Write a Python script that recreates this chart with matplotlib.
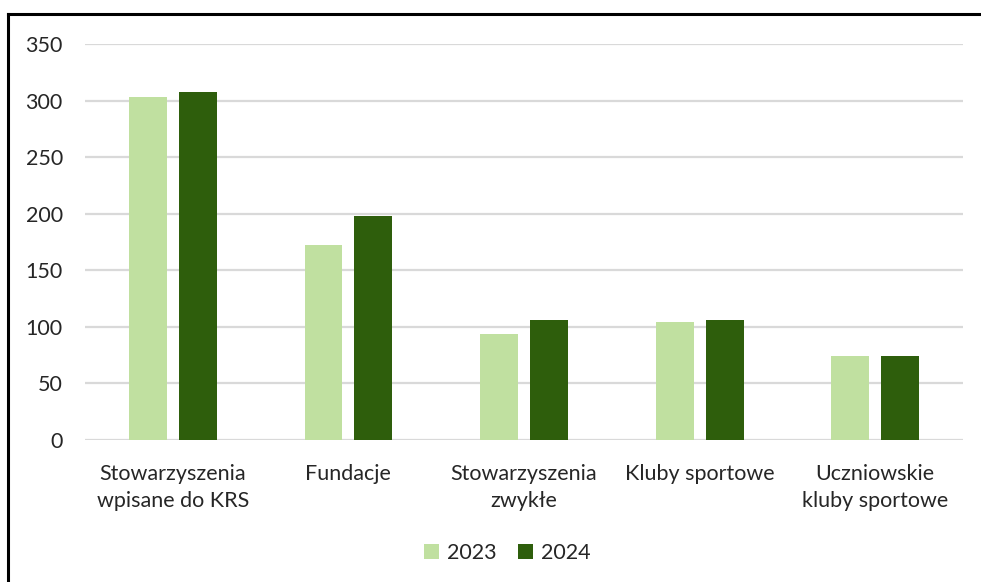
import numpy as np
import matplotlib
matplotlib.use("Agg")
import matplotlib.pyplot as plt
from matplotlib.lines import Line2D

plt.rcParams["font.family"] = ["Lato", "DejaVu Sans"]

categories = ["Stowarzyszenia\nwpisane do KRS", "Fundacje", "Stowarzyszenia\nzwykłe",
              "Kluby sportowe", "Uczniowskie\nkluby sportowe"]
years = ["2023", "2024"]
v2023 = [303, 172, 94, 104, 74]
v2024 = [308, 198, 106, 106, 74]
colors = ["#c0e0a0", "#2e5e0c"]

fig = plt.figure(figsize=(9.81, 5.82), dpi=100)
ax = fig.add_axes([85 / 981, 1 - 440 / 582, 878 / 981, 396 / 582])

x = np.arange(len(categories))
w = 0.216; off = 0.142
ax.bar(x - off, v2023, w, color=colors[0], label=years[0], zorder=3)
ax.bar(x + off, v2024, w, color=colors[1], label=years[1], zorder=3)

ax.set_xlim(-0.5, len(categories) - 0.5)
ax.set_ylim(0, 350)
ax.set_yticks(range(0, 351, 50))
ax.grid(axis="y", color="#d9d9d9", lw=1.6, zorder=0)
for s in ax.spines.values():
    s.set_visible(False)
ax.tick_params(length=0, labelsize=15.5, colors="#262626")
ax.tick_params(axis="y", pad=16)
ax.tick_params(axis="x", pad=17)
ax.set_xticks(x)
ax.set_xticklabels(categories, linespacing=1.45)

ax.legend(loc="center", bbox_to_anchor=(0.481, -0.285), ncol=2, frameon=False,
          fontsize=15.5, handlelength=0.7, handleheight=0.7, handletextpad=0.35,
          columnspacing=1.0, labelcolor="#262626")

# outer frame (top and left edges visible)
fig.add_artist(Line2D([8 / 981, 8 / 981], [0, 1 - 14 / 582], color="black", lw=2.2))
fig.add_artist(Line2D([8 / 981, 1], [1 - 14 / 582, 1 - 14 / 582], color="black", lw=2.2))

fig.savefig("out.png", dpi=100)
